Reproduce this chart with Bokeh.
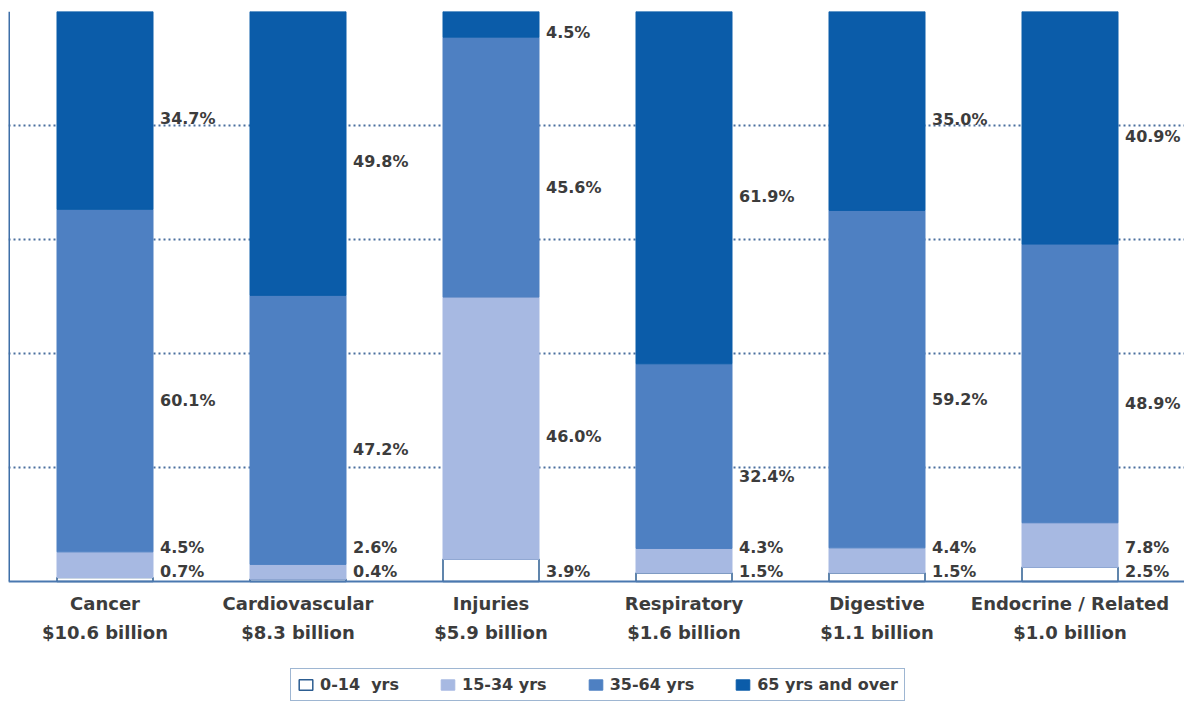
from bokeh.plotting import figure
from bokeh.models import (ColumnDataSource, Range1d, FixedTicker, Legend, LegendItem, Span)
from bokeh.core.properties import value
from bokeh.embed import file_html
from bokeh.resources import INLINE

categories = ["Cancer", "Cardiovascular", "Injuries", "Respiratory", "Digestive", "Endocrine / Related"]
costs = ["$10.6 billion", "$8.3 billion", "$5.9 billion", "$1.6 billion", "$1.1 billion", "$1.0 billion"]
age_0_14 = [0.7, 0.4, 3.9, 1.5, 1.5, 2.5]
age_15_34 = [4.5, 2.6, 46.0, 4.3, 4.4, 7.8]
age_35_64 = [60.1, 47.2, 45.6, 32.4, 59.2, 48.9]
age_65_plus = [34.7, 49.8, 4.5, 61.9, 35.0, 40.9]
series_names = ["0-14  yrs", "15-34 yrs", "35-64 yrs", "65 yrs and over"]
grid_ticks = [20, 40, 60, 80, 100]

fills = ["#ffffff", "#a7b9e2", "#4e80c2", "#0b5ca9"]
lines = ["#2c5d91", "#a7b9e2", "#4e80c2", "#0b5ca9"]
FONT = "DejaVu Sans"
TXT = "#3c3c3c"

n = len(categories)
centers = [i + 0.5 for i in range(n)]
CAT_PX = 193
FRAME_W = 1176
PLOT_H = 570          # pixels for 0..100 %
BELOW_H = 121         # pixels under the 0 line for labels and legend
PX_PER_UNIT = PLOT_H / 100
bar_w = 96 / CAT_PX

p = figure(frame_width=FRAME_W, frame_height=PLOT_H + BELOW_H,
           x_range=Range1d(0, FRAME_W / CAT_PX),
           y_range=Range1d(-BELOW_H / PX_PER_UNIT, 100), output_backend="svg", toolbar_location=None,
           min_border_left=8, min_border_right=0, min_border_top=11, min_border_bottom=0)
p.outline_line_color = None
p.xaxis.visible = False
p.yaxis.visible = False
p.xgrid.visible = False
p.ygrid.ticker = FixedTicker(ticks=grid_ticks)
p.ygrid.grid_line_color = "#4a6f9e"
p.ygrid.grid_line_width = 2
p.ygrid.grid_line_dash = "2 3"

all_series = [age_0_14, age_15_34, age_35_64, age_65_plus]
bottoms = [0.0] * n
renderers = []
lab_x, lab_y, lab_t = [], [], []
for k, vals in enumerate(all_series):
    tops = [min(100.0, b + v) for b, v in zip(bottoms, vals)]
    src = ColumnDataSource(dict(x=centers, bottom=bottoms, top=tops))
    r = p.vbar(x="x", bottom="bottom", top="top", width=bar_w, source=src,
               fill_color=fills[k], line_color=lines[k], line_width=1.5 if k == 0 else 1)
    renderers.append(r)
    for i in range(n):
        mid = (bottoms[i] + tops[i]) / 2
        if k == 0:
            y = 1.8
        elif k == 1:
            y = 6.0 if vals[i] < 10 else mid - 1.5
        elif k == 2:
            y = mid - 3.5
        else:
            y = mid - 1.5
        lab_x.append(centers[i] + bar_w / 2 + 7 / CAT_PX)
        lab_y.append(y)
        lab_t.append(f"{vals[i]:.1f}%")
    bottoms = tops

p.text(x=lab_x, y=lab_y, text=lab_t, text_font=value(FONT), text_font_style="bold",
       text_font_size="16px", text_color=TXT, text_baseline="middle", text_align="left")

# category labels (two lines) under the baseline
p.text(x=centers, y=[-22 / PX_PER_UNIT] * n, text=categories, text_font=value(FONT),
       text_font_style="bold", text_font_size="18px", text_color=TXT,
       text_baseline="middle", text_align="center")
p.text(x=centers, y=[-51 / PX_PER_UNIT] * n, text=costs, text_font=value(FONT),
       text_font_style="bold", text_font_size="18px", text_color=TXT,
       text_baseline="middle", text_align="center")

# axis lines
p.add_layout(Span(location=0, dimension="width", line_color="#4a78b0", line_width=2))
p.segment(x0=[0], y0=[0], x1=[0], y1=[100], line_color="#3e6fa8", line_width=3)

legend = Legend(items=[LegendItem(label=s, renderers=[r]) for s, r in zip(series_names, renderers)],
                orientation="horizontal", location=(282, 1))
legend.border_line_color = "#3d6ea6"
legend.border_line_width = 1.5
legend.label_text_font = FONT
legend.label_text_font_style = "bold"
legend.label_text_font_size = "16px"
legend.label_text_color = TXT
legend.glyph_width = 17
legend.glyph_height = 13
legend.label_standoff = 6
legend.spacing = 40
legend.padding = 6
legend.margin = 0
p.add_layout(legend, "center")

open("out.html", "w").write(file_html(p, INLINE))
